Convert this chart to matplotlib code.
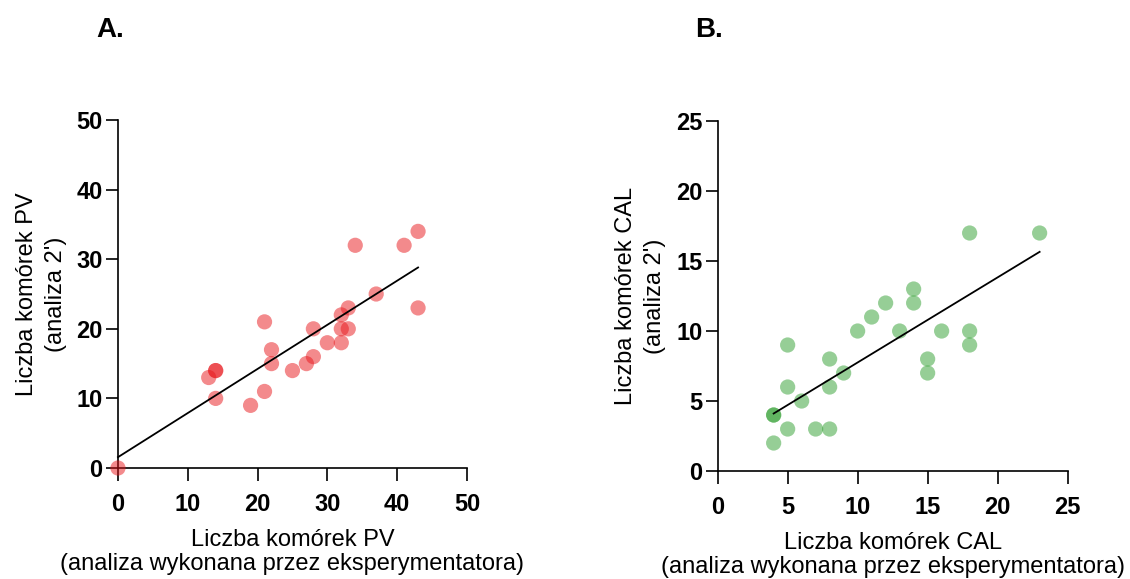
import matplotlib
matplotlib.use("Agg")
import matplotlib.pyplot as plt
import numpy as np

plt.rcParams['font.family'] = ['Liberation Sans', 'DejaVu Sans']

# Panel A - PV cells
pv_exp = [0, 13, 14, 14, 14, 19, 21, 21, 22, 22, 25, 27, 28, 28, 30, 32, 32, 32,
          33, 33, 34, 37, 41, 43, 43]
pv_2 = [0, 13, 14, 14, 10, 9, 21, 11, 17, 15, 14, 15, 16, 20, 18, 18, 20, 22,
        23, 20, 32, 25, 32, 34, 23]

# Panel B - CAL cells
cal_exp = [4, 4, 4, 5, 5, 5, 6, 7, 8, 8, 8, 9, 10, 11, 12, 13, 14, 14, 15, 15,
           16, 18, 18, 18, 23]
cal_2 = [4, 4, 2, 9, 6, 3, 5, 3, 3, 6, 8, 7, 10, 11, 12, 10, 12, 13, 8, 7,
         10, 17, 10, 9, 17]

pv_ticks = [0, 10, 20, 30, 40, 50]
cal_ticks = [0, 5, 10, 15, 20, 25]


def style_axis(ax, ticks):
    for side in ['top', 'right']:
        ax.spines[side].set_visible(False)
    for side in ['left', 'bottom']:
        ax.spines[side].set_linewidth(1.2)
    ax.set_xlim(ticks[0], ticks[-1])
    ax.set_ylim(ticks[0], ticks[-1])
    ax.set_xticks(ticks)
    ax.set_yticks(ticks)
    ax.tick_params(axis='both', direction='out', length=9, width=1.2,
                   labelsize=17)
    ax.tick_params(axis='x', pad=9)
    ax.tick_params(axis='y', pad=2)
    for lab in ax.get_xticklabels() + ax.get_yticklabels():
        lab.set_fontweight('bold')


def draw_panel(ax, x, y, color, ticks, xlabel, ylabel, letter):
    ax.scatter(x, y, s=120, color=color, alpha=0.5, edgecolors='none',
               clip_on=False, zorder=3)
    # linear regression through the points
    slope, intercept = np.polyfit(x, y, 1)
    xs = np.array([min(x), max(x)])
    ax.plot(xs, slope * xs + intercept, color='black', lw=1.3, zorder=4,
            clip_on=False)
    style_axis(ax, ticks)
    ax.set_xlabel(xlabel, fontsize=17, linespacing=1.12, labelpad=9)
    ax.set_ylabel(ylabel, fontsize=17, linespacing=1.4, labelpad=7)
    ax.text(-0.063, 1.26, letter, transform=ax.transAxes, fontsize=20,
            fontweight='bold', ha='left', va='center')


fig = plt.figure(figsize=(11.3, 5.79), dpi=100)
ax_a = fig.add_axes([0.1044, 0.1917, 0.3088, 0.601])
ax_b = fig.add_axes([0.6351, 0.1865, 0.3097, 0.6045])

draw_panel(ax_a, pv_exp, pv_2, '#e8161b', pv_ticks,
           "Liczba komórek PV\n(analiza wykonana przez eksperymentatora)",
           "Liczba komórek PV\n(analiza 2')", "A.")
draw_panel(ax_b, cal_exp, cal_2, '#2e9e2e', cal_ticks,
           "Liczba komórek CAL\n(analiza wykonana przez eksperymentatora)",
           "Liczba komórek CAL\n(analiza 2')", "B.")

fig.savefig("out.png", dpi=100)
